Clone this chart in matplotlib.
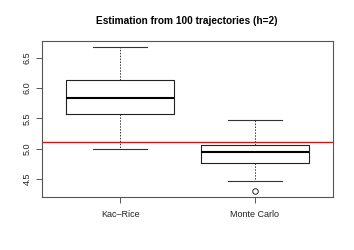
import matplotlib
matplotlib.use("Agg")
import matplotlib.pyplot as plt

categories = ["Kac\u2013Rice", "Monte Carlo"]
whislo = [5.00, 4.47]
q1 = [5.58, 4.77]
med = [5.83, 4.95]
q3 = [6.125, 5.065]
whishi = [6.68, 5.475]
fliers = [[], [4.30]]
ref_value = 5.11
yticks = [4.5, 5.0, 5.5, 6.0, 6.5]

plt.rcParams['font.family'] = ['Liberation Sans', 'DejaVu Sans']

fig = plt.figure(figsize=(3.54, 2.5), dpi=100)
ax = fig.add_axes([42/354, 1-197/250, (333-42)/354, (197-41)/250])

stats = []
for i in range(len(categories)):
    stats.append(dict(label=categories[i], whislo=whislo[i], q1=q1[i], med=med[i],
                      q3=q3[i], whishi=whishi[i], fliers=fliers[i]))

ax.bxp(stats, positions=[1, 2], widths=0.8, showfliers=True,
       boxprops=dict(color='#222222', linewidth=0.8),
       medianprops=dict(color='black', linewidth=1.5),
       whiskerprops=dict(color='#333333', linewidth=0.7, linestyle=(0, (1.5, 1.5))),
       capprops=dict(color='#333333', linewidth=0.8),
       capwidths=0.4,
       flierprops=dict(marker='o', markerfacecolor='none', markeredgecolor='#222222',
                       markersize=4, markeredgewidth=0.7))

ax.axhline(ref_value, color='red', linewidth=1.0)

data_min = min(min(whislo), min(min(f) for f in fliers if f))
data_max = max(whishi)
pad = 0.04 * (data_max - data_min)
ax.set_ylim(data_min - pad, data_max + pad)
ax.set_xlim(0.42, 2.58)
ax.set_yticks(yticks)
ax.set_yticklabels([f"{v:.1f}" for v in yticks], rotation=90, va='center', fontsize=6.5, color='#222222')
ax.set_xticks([1, 2])
ax.set_xticklabels(categories, fontsize=6.5, color='#222222')
ax.tick_params(axis='both', length=4, width=0.7, color='#555555')
ax.tick_params(axis='y', pad=3.5)
ax.tick_params(axis='x', pad=5.5)
for s in ax.spines.values():
    s.set_color('#555555')
    s.set_linewidth(0.8)

fig.text(187/354, 1-21/250, "Estimation from 100 trajectories (h=2)", ha='center', va='center',
         fontsize=7.3, fontweight='bold')

fig.savefig("out.png", dpi=100)
